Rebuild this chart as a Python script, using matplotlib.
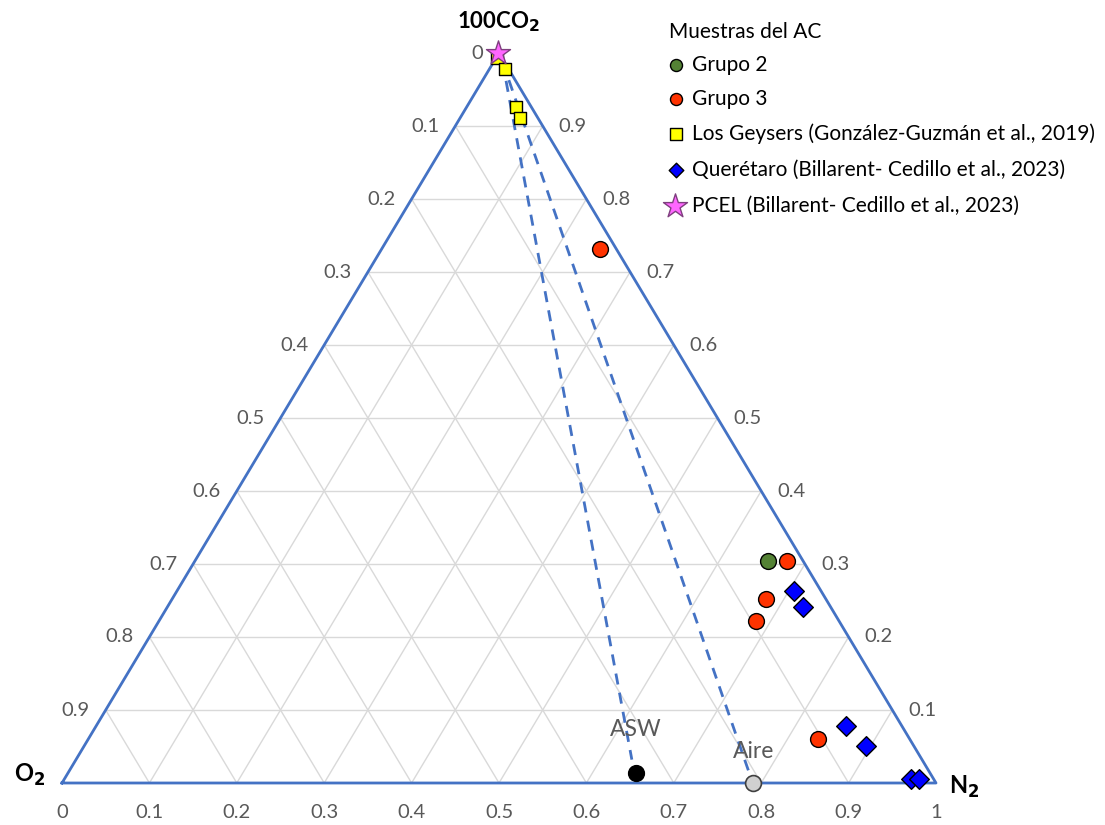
import matplotlib
matplotlib.use("Agg")
from matplotlib import pyplot as plt

plt.rcParams['font.family'] = ['Lato', 'DejaVu Sans']

# ternary data: x = position along the base, y = fraction of CO2 (height)
g2_x = [0.808]
g2_y = [0.304]
g3_x = [0.616, 0.830, 0.805, 0.794, 0.865]
g3_y = [0.732, 0.304, 0.252, 0.222, 0.060]
geysers_x = [0.498, 0.507, 0.519, 0.524]
geysers_y = [0.993, 0.978, 0.926, 0.911]
qro_x = [0.838, 0.848, 0.897, 0.920, 0.971, 0.981]
qro_y = [0.263, 0.241, 0.078, 0.051, 0.005, 0.005]
pcel_x = [0.499]
pcel_y = [1.0]
asw = (0.657, 0.014)
aire = (0.791, 0.0)
mix_top = (0.504, 0.988)
mix_asw = (0.652, 0.032)
mix_aire = (0.788, 0.008)

ticks = [i / 10 for i in range(11)]
tick_labels = ['0', '0.1', '0.2', '0.3', '0.4', '0.5', '0.6', '0.7', '0.8', '0.9', '1']

blue = '#4472C4'
grid = '#D9D9D9'
gray_txt = '#595959'
fs = 14.5

fig = plt.figure(figsize=(11.05, 8.25), dpi=100)
ax = fig.add_axes([0, 0, 1, 1])
ax.set_xlim(-62 / 874, (1105 - 62) / 874)
ax.set_ylim(-42 / 730, (825 - 42) / 730)
ax.axis('off')

# grid lines
for k in range(1, 10):
    t = k / 10
    ax.plot([t / 2, 1 - t / 2], [t, t], color=grid, lw=1, zorder=1)
    ax.plot([t, t + (1 - t) / 2], [0, 1 - t], color=grid, lw=1, zorder=1)
    ax.plot([t, t / 2], [0, t], color=grid, lw=1, zorder=1)

# triangle
ax.plot([0, 1, 0.5, 0], [0, 0, 1, 0], color=blue, lw=2, zorder=2)

# mixing lines
ax.plot([mix_top[0], mix_asw[0]], [mix_top[1], mix_asw[1]], color=blue, lw=2,
        ls=(0, (4, 3)), zorder=2)
ax.plot([mix_top[0], mix_aire[0]], [mix_top[1], mix_aire[1]], color=blue, lw=2,
        ls=(0, (4, 3)), zorder=2)

# tick labels
dx = 1 / 874
dy = 1 / 730
for t, lab in zip(ticks, tick_labels):
    ax.text(t, -30 * dy, lab, ha='center', va='center', fontsize=fs, color=gray_txt)
for k in range(10):
    h = 1 - k / 10
    ax.text(h / 2 - 16 * dx, h, tick_labels[k], ha='right', va='center',
            fontsize=fs, color=gray_txt)
for k in range(1, 10):
    h = k / 10
    ax.text(1 - h / 2 + 16 * dx, h, tick_labels[k], ha='left', va='center',
            fontsize=fs, color=gray_txt)

# corner labels
ax.text(0.5, 1 + 31 * dy, '100CO$_\\mathbf{2}$', ha='center', va='center',
        fontsize=16, fontweight='bold')
ax.text(-32 * dx, 8 * dy, 'O$_\\mathbf{2}$', ha='center', va='center',
        fontsize=17, fontweight='bold')
ax.text(1 + 28 * dx, -4 * dy, 'N$_\\mathbf{2}$', ha='center', va='center',
        fontsize=17, fontweight='bold')

# data points
ax.scatter(g2_x, g2_y, s=130, c='#548235', edgecolors='black', lw=1, zorder=4)
ax.scatter(g3_x, g3_y, s=130, c='#FF3300', edgecolors='black', lw=1, zorder=4)
ax.scatter(geysers_x, geysers_y, s=75, marker='s', c='#FFFF00', edgecolors='black',
           lw=1, zorder=4)
ax.scatter(qro_x, qro_y, s=100, marker='D', c='#0000FF', edgecolors='black', lw=1,
           zorder=4)
ax.scatter(pcel_x, pcel_y, s=330, marker='*', c='#FF66FF', edgecolors='#7F3F7F',
           lw=1, zorder=5)
ax.scatter([asw[0]], [asw[1]], s=130, c='black', edgecolors='black', lw=1, zorder=4)
ax.scatter([aire[0]], [aire[1]], s=130, c='#D0D0D0', edgecolors='#404040', lw=1.2,
           zorder=4)
ax.text(asw[0], asw[1] + 43 * dy, 'ASW', ha='center', va='center', fontsize=16.5,
        color=gray_txt)
ax.text(aire[0], aire[1] + 31 * dy, 'Aire', ha='center', va='center', fontsize=16.5,
        color=gray_txt)

# legend
lx = (676 - 62) * dx
tx = (692 - 62) * dx
ax.text((669 - 62) * dx, (783 - 32) * dy, 'Muestras del AC', ha='left', va='center',
        fontsize=15)
entries = [
    ('o', '#548235', 75, 'Grupo 2'),
    ('o', '#FF3300', 75, 'Grupo 3'),
    ('s', '#FFFF00', 70, 'Los Geysers (González-Guzmán et al., 2019)'),
    ('D', '#0000FF', 55, 'Querétaro (Billarent- Cedillo et al., 2023)'),
    ('*', '#FF66FF', 330, 'PCEL (Billarent- Cedillo et al., 2023)'),
]
ys = [65, 99, 134, 170, 206]
for (m, c, s, lab), py in zip(entries, ys):
    mx = lx - (1 * dx if m == '*' else 0)
    ax.scatter([mx], [(783 - py) * dy], s=s, marker=m, c=c,
               edgecolors='#7F3F7F' if m == '*' else 'black', lw=1, zorder=5)
    ax.text(tx, (783 - py) * dy, lab, ha='left', va='center', fontsize=15)

plt.savefig("out.png", dpi=100)
